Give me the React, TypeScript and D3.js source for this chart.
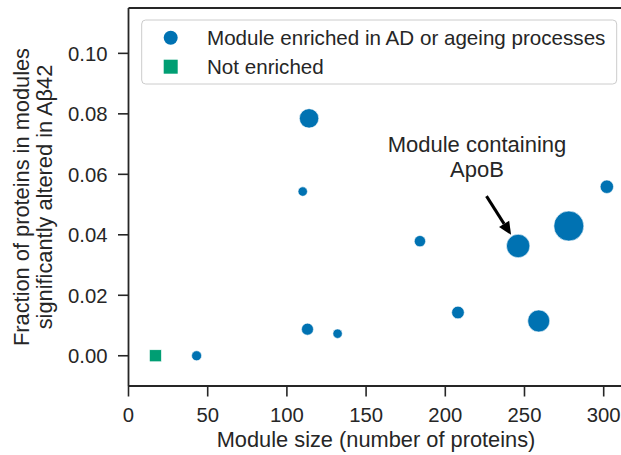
import React from 'react'
import * as d3 from 'd3'

// module size (number of proteins), fraction altered, marker area
const enrichedSize = [43, 114, 110, 113, 132, 184, 208, 246, 259, 278, 302]
const enrichedFraction = [0, 0.0785, 0.0543, 0.0088, 0.0073, 0.0379, 0.0143, 0.0363, 0.0115, 0.0429, 0.0559]
const enrichedArea = [25, 94, 22, 36, 22, 32, 40, 137, 121, 225, 45]

const notEnrichedSize = [17]
const notEnrichedFraction = [0]

const xTicks = [0, 50, 100, 150, 200, 250, 300]
const yTicks = [0, 0.02, 0.04, 0.06, 0.08, 0.1]

const legendLabels = ['Module enriched in AD or ageing processes', 'Not enriched']
const annotationLines = ['Module containing', 'ApoB']
const apoBIndex = 7

const W = 621
const H = 455
const FONT = '"Liberation Sans", Arial, sans-serif'
const INK = '#262626'
const BLUE = '#0072B2'
const GREEN = '#009E73'
const TICK_FS = 20.3
const LABEL_FS = 21.8

export default function App() {
  const x = d3.scaleLinear().domain([0, 312]).range([128.5, 622.7])
  const y = d3.scaleLinear().domain([-0.01, 0.115]).range([386, 8])
  const r = d3.scaleSqrt().domain([0, 225]).range([0, 15])

  const [x0] = x.range()
  const [y0, y1] = y.range()

  // annotation arrow: from text towards the ApoB module
  const cx = x(enrichedSize[apoBIndex])
  const cy = y(enrichedFraction[apoBIndex])
  const tailX = x(226)
  const tailY = y(0.0528)
  const dx = tailX - cx
  const dy = tailY - cy
  const len = Math.hypot(dx, dy)
  const ux = dx / len
  const uy = dy / len
  const gap = r(enrichedArea[apoBIndex]) + 1.5
  const tipX = cx + ux * gap
  const tipY = cy + uy * gap
  const headLen = 13
  const headW = 6
  const baseX = tipX + ux * headLen
  const baseY = tipY + uy * headLen
  const head = [
    [tipX, tipY],
    [baseX - uy * headW, baseY + ux * headW],
    [baseX + uy * headW, baseY - ux * headW],
  ]

  return (
    <svg width={W} height={H} style={{ position: 'absolute', left: 0, top: 0, background: '#fff' }} fontFamily={FONT}>
      <clipPath id="plot">
        <rect x={x0} y={y1} width={W - x0} height={y0 - y1} />
      </clipPath>

      {/* points */}
      <g clipPath="url(#plot)">
        {notEnrichedSize.map((s, i) => (
          <rect
            key={'g' + i}
            x={x(s) - 6}
            y={y(notEnrichedFraction[i]) - 6}
            width={12}
            height={12}
            fill={GREEN}
            stroke="#fff"
            strokeWidth={0.6}
          />
        ))}
        {enrichedSize.map((s, i) => (
          <circle
            key={'b' + i}
            cx={x(s)}
            cy={y(enrichedFraction[i])}
            r={r(enrichedArea[i])}
            fill={BLUE}
            stroke="#fff"
            strokeWidth={0.6}
          />
        ))}
      </g>

      {/* spines */}
      <g stroke={INK} strokeWidth={1.8} fill="none">
        <line x1={x0} x2={x0} y1={y1} y2={y0} />
        <line x1={x0} x2={W + 2} y1={y0} y2={y0} />
        <line x1={x0} x2={W + 2} y1={y1} y2={y1} />
      </g>

      {/* x axis */}
      {xTicks.map((t) => (
        <g key={'x' + t} transform={`translate(${x(t)},${y0})`}>
          <line y2={10.5} stroke={INK} strokeWidth={1.6} />
          <text y={35.5} textAnchor="middle" fontSize={TICK_FS} fill={INK}>
            {t}
          </text>
        </g>
      ))}
      <text x={376} y={447} textAnchor="middle" fontSize={LABEL_FS} fill={INK}>
        Module size (number of proteins)
      </text>

      {/* y axis */}
      {yTicks.map((t) => (
        <g key={'y' + t} transform={`translate(${x0},${y(t)})`}>
          <line x2={-10.5} stroke={INK} strokeWidth={1.6} />
          <text x={-21} dy="0.36em" textAnchor="end" fontSize={TICK_FS} fill={INK}>
            {d3.format('.2f')(t)}
          </text>
        </g>
      ))}
      <g transform={`translate(0,${(y0 + y1) / 2}) rotate(-90)`}>
        <text x={0} y={28.5} textAnchor="middle" fontSize={LABEL_FS} fill={INK}>
          Fraction of proteins in modules
        </text>
        <text x={0} y={51.5} textAnchor="middle" fontSize={LABEL_FS} fill={INK}>
          significantly altered in Aβ42
        </text>
      </g>

      {/* annotation */}
      {annotationLines.map((l, i) => (
        <text key={l} x={x(220)} y={y(0.0675) + i * 25} textAnchor="middle" fontSize={22} fill={INK}>
          {l}
        </text>
      ))}
      <line x1={tailX} y1={tailY} x2={baseX} y2={baseY} stroke="#000" strokeWidth={3} />
      <polygon points={head.map((p) => p.join(',')).join(' ')} fill="#000" />

      {/* legend */}
      <rect x={141.7} y={20} width={475} height={64} rx={4} fill="#fff" fillOpacity={0.8} stroke="#cccccc" strokeWidth={1} />
      <circle cx={170.7} cy={37.7} r={7} fill={BLUE} />
      <rect x={163.7} y={59.7} width={14} height={14} fill={GREEN} />
      {legendLabels.map((l, i) => (
        <text key={l} x={207} y={37.7 + i * 29} dy="0.36em" fontSize={20.6} fill={INK}>
          {l}
        </text>
      ))}
    </svg>
  )
}
